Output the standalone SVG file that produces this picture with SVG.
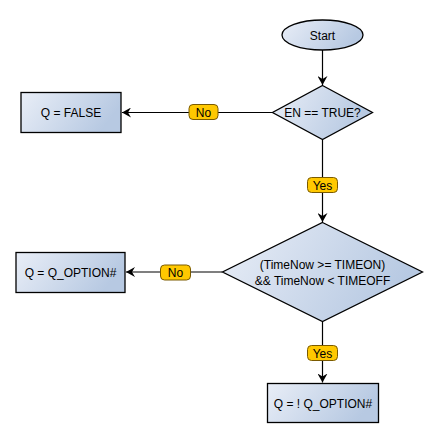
<svg xmlns="http://www.w3.org/2000/svg" width="438" height="439" viewBox="0 0 438 439">
<defs>
<linearGradient id="g" x1="0" y1="0" x2="1" y2="0.3">
<stop offset="0" stop-color="#e9eef7"/>
<stop offset="1" stop-color="#b7c9e2"/>
</linearGradient>
<marker id="arr" markerWidth="10" markerHeight="10" refX="9" refY="5" orient="auto" markerUnits="userSpaceOnUse">
<path d="M0,0 L9,5 L0,10 L3,5 Z" fill="#000"/>
</marker>
<style>
.n{fill:url(#g);stroke:#000;stroke-width:1.3}
.t{font-family:"Liberation Sans",Arial,sans-serif;font-size:12px;fill:#000;text-anchor:middle}
.c{stroke:#000;stroke-width:1.2;fill:none}
.lb{fill:#ffc800;stroke:#7a5a00;stroke-width:1}
</style>
</defs>
<rect width="438" height="439" fill="#fff"/>
<g id="connectors">
<path class="c" d="M322.5,50 V85" marker-end="url(#arr)"/>
<path class="c" d="M272.5,112.5 H122" marker-end="url(#arr)"/>
<path class="c" d="M322.5,140 V222" marker-end="url(#arr)"/>
<path class="c" d="M222.5,272 H126" marker-end="url(#arr)"/>
<path class="c" d="M322.5,322 V382.5" marker-end="url(#arr)"/>
<g id="l1"><rect class="lb" x="189" y="104.5" width="29" height="15" rx="4"/><text class="t" x="203.5" y="116.5">No</text></g>
<g id="l2"><rect class="lb" x="307.5" y="177.5" width="30" height="15" rx="4"/><text class="t" x="322.5" y="189.5">Yes</text></g>
<g id="l3"><rect class="lb" x="160.5" y="265" width="30" height="15" rx="4"/><text class="t" x="175.5" y="277">No</text></g>
<g id="l4"><rect class="lb" x="307.5" y="345.5" width="30" height="15" rx="4"/><text class="t" x="322.5" y="357.5">Yes</text></g>
</g>
<g id="start"><ellipse class="n" cx="322.5" cy="35" rx="40.5" ry="15"/><text class="t" x="322.5" y="39.5">Start</text></g>
<g id="d1"><polygon class="n" points="322.5,85.5 372.5,112.5 322.5,139.5 272.5,112.5"/><text class="t" x="322.5" y="117">EN == TRUE?</text></g>
<g id="r1"><rect class="n" x="21" y="92.5" width="100" height="40"/><text class="t" x="71" y="117">Q = FALSE</text></g>
<g id="d2"><polygon class="n" points="322.5,222.5 422.5,272 322.5,321.5 222.5,272"/><text class="t" x="322.5" y="269">(TimeNow &gt;= TIMEON)</text><text class="t" x="322.5" y="285">&amp;&amp; TimeNow &lt; TIMEOFF</text></g>
<g id="r2"><rect class="n" x="16" y="252.5" width="109" height="40"/><text class="t" x="70.5" y="277">Q = Q_OPTION#</text></g>
<g id="r3"><rect class="n" x="267.5" y="383.5" width="111" height="39"/><text class="t" x="323" y="407.5">Q = ! Q_OPTION#</text></g>
</svg>
